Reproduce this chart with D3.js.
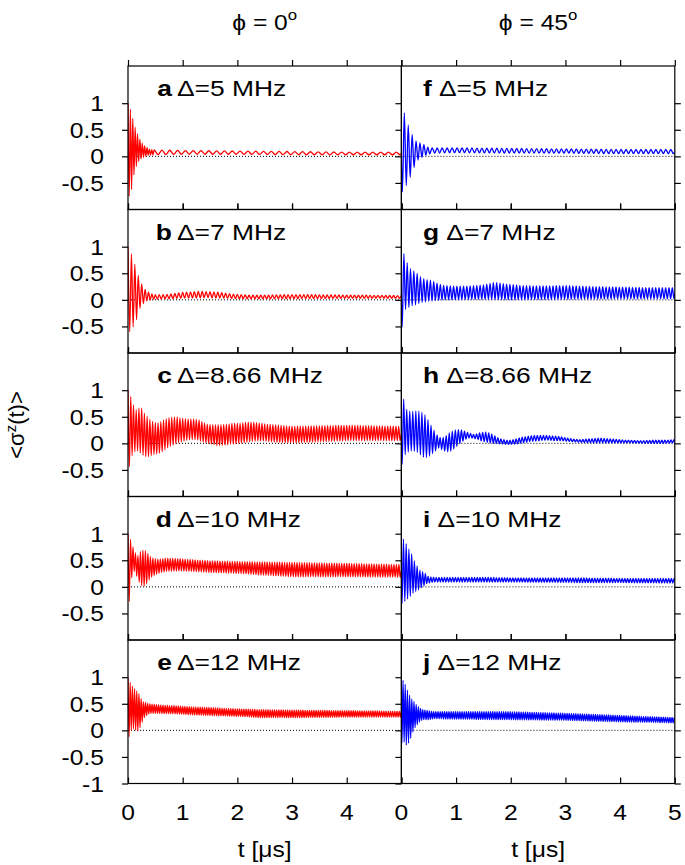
<!DOCTYPE html>
<html><head><meta charset="utf-8">
<script src="https://cdn.jsdelivr.net/npm/d3@7"></script>
<style>body{margin:0;background:#fff}svg{display:block}</style>
</head><body>
<svg id="chart" width="685" height="865"></svg>
<script>
// ---------------- data ----------------
const columnTitles = ["0", "45"];              // phi in degrees
const panelLetters = [["a","b","c","d","e"],["f","g","h","i","j"]];
const detunings = ["5","7","8.66","10","12"];   // MHz
const xTickValues = [0,1,2,3,4,5];
const xTickLabelsLeft = ["0","1","2","3","4"];
const xTickLabelsRight = ["0","1","2","3","4","5"];
const yTickValues = [1,0.5,0,-0.5];
const yTickValuesBottom = [1,0.5,0,-0.5,-1];
const xLabel = "t [\u03bcs]";

// Envelope readings: [t (us), value] for upper and lower extremes of the oscillation
const upA = [[0,1.0],[0.045,0.88],[0.09,0.7],[0.13,0.55],[0.175,0.42],[0.22,0.32],[0.26,0.25],[0.3,0.2],[0.35,0.16],[0.4,0.13],[0.47,0.12],[1,0.11],[2,0.1],[3,0.09],[4,0.08],[5,0.08]];
const loA = [[0,-0.75],[0.024,-0.75],[0.067,-0.62],[0.11,-0.34],[0.152,-0.19],[0.195,-0.1],[0.238,-0.05],[0.28,-0.02],[0.32,0],[0.36,0.02],[0.45,0.03],[1,0.04],[2,0.04],[3,0.03],[4,0.03],[5,0.03]];
const carA = [[0,23],[0.47,7]];

const upB = [[0,1.0],[0.05,0.9],[0.11,0.72],[0.17,0.51],[0.23,0.34],[0.29,0.22],[0.35,0.16],[0.41,0.12],[0.5,0.1],[0.7,0.1],[1.0,0.14],[1.3,0.16],[1.6,0.15],[1.9,0.11],[2.2,0.09],[2.6,0.09],[3.0,0.1],[4.0,0.09],[5.0,0.08]];
const loB = [[0,-0.6],[0.03,-0.6],[0.08,-0.53],[0.14,-0.44],[0.2,-0.19],[0.26,-0.09],[0.32,-0.03],[0.38,0],[0.5,0.01],[1.0,0.03],[1.5,0.04],[2.0,0.02],[3.0,0.02],[4.0,0.03],[5.0,0.03]];
const carB = [[0,16],[0.5,14]];

const upC = [[0,1.0],[0.05,0.88],[0.1,0.72],[0.15,0.63],[0.2,0.66],[0.26,0.66],[0.31,0.54],[0.36,0.5],[0.41,0.44],[0.47,0.4],[0.53,0.38],[0.59,0.4],[0.65,0.44],[0.71,0.47],[0.77,0.49],[0.83,0.5],[0.9,0.5],[0.95,0.48],[1.07,0.46],[1.19,0.46],[1.31,0.44],[1.44,0.36],[1.56,0.35],[1.68,0.35],[1.8,0.36],[1.92,0.38],[2.05,0.38],[2.17,0.4],[2.29,0.4],[2.41,0.38],[2.53,0.36],[2.66,0.35],[2.78,0.34],[3.02,0.32],[3.5,0.33],[4.0,0.34],[4.5,0.33],[5.0,0.32]];
const loC = [[0,-0.46],[0.02,-0.46],[0.08,-0.21],[0.13,-0.15],[0.19,-0.14],[0.25,-0.21],[0.31,-0.24],[0.35,-0.26],[0.4,-0.24],[0.47,-0.21],[0.53,-0.2],[0.59,-0.18],[0.65,-0.14],[0.71,-0.09],[0.77,-0.06],[0.83,-0.03],[0.89,0.0],[1.01,0.04],[1.13,0.07],[1.25,0.07],[1.38,0.02],[1.5,-0.01],[1.62,-0.04],[1.74,-0.04],[1.86,-0.02],[1.98,-0.01],[2.16,0.02],[2.29,0.04],[2.41,0.05],[2.53,0.04],[2.72,0.02],[3.02,0.01],[3.5,0.03],[4.0,0.05],[4.5,0.05],[5.0,0.05]];
const carC = [[0,20]];

const upD = [[0,1.0],[0.05,0.88],[0.11,0.69],[0.17,0.57],[0.22,0.66],[0.27,0.69],[0.32,0.68],[0.37,0.62],[0.41,0.57],[0.46,0.54],[0.53,0.52],[0.7,0.54],[0.95,0.53],[1.19,0.51],[1.5,0.49],[2.1,0.475],[2.7,0.465],[3.0,0.46],[4.0,0.44],[5.0,0.42]];
const loD = [[0,-0.3],[0.02,-0.3],[0.08,0.29],[0.13,0.29],[0.18,0.13],[0.23,0.04],[0.28,0.0],[0.33,0.04],[0.38,0.12],[0.43,0.18],[0.49,0.22],[0.58,0.26],[0.7,0.29],[0.95,0.3],[1.19,0.29],[1.5,0.27],[1.8,0.26],[2.1,0.25],[2.4,0.225],[2.7,0.21],[3.0,0.19],[4.0,0.19],[5.0,0.18]];
const carD = [[0,22]];

const upE = [[0,1.0],[0.05,0.88],[0.1,0.8],[0.15,0.75],[0.2,0.69],[0.24,0.6],[0.28,0.54],[0.33,0.52],[0.38,0.5],[0.47,0.49],[0.59,0.475],[0.89,0.46],[1.19,0.44],[1.5,0.43],[1.8,0.41],[2.1,0.4],[2.4,0.39],[3.0,0.38],[4.0,0.37],[5.0,0.36]];
const loE = [[0,-0.12],[0.02,-0.12],[0.06,0.0],[0.11,0.04],[0.16,-0.02],[0.2,0.0],[0.25,0.13],[0.3,0.24],[0.35,0.29],[0.4,0.32],[0.53,0.32],[0.89,0.31],[1.19,0.29],[1.5,0.28],[1.8,0.27],[2.1,0.26],[2.4,0.24],[3.0,0.24],[4.0,0.25],[5.0,0.25]];
const carE = [[0,25]];

const upF = [[0,0.875],[0.037,0.875],[0.1,0.66],[0.17,0.47],[0.24,0.31],[0.31,0.26],[0.39,0.24],[0.46,0.18],[0.55,0.16],[1.0,0.16],[2.0,0.15],[3.0,0.14],[4.0,0.13],[5.0,0.13]];
const loF = [[0,-0.67],[0.02,-0.67],[0.1,-0.53],[0.17,-0.375],[0.24,-0.19],[0.31,-0.06],[0.39,-0.01],[0.46,0.03],[0.55,0.06],[1.0,0.07],[2.0,0.06],[3.0,0.06],[4.0,0.05],[5.0,0.05]];
const carF = [[0,14],[0.5,11]];

const upG = [[0,0.875],[0.04,0.875],[0.08,0.84],[0.12,0.62],[0.22,0.55],[0.32,0.47],[0.37,0.41],[0.46,0.38],[0.52,0.375],[0.59,0.35],[0.68,0.3],[0.77,0.27],[0.9,0.26],[1.2,0.26],[1.5,0.28],[1.7,0.33],[1.9,0.3],[2.2,0.27],[2.6,0.26],[3.0,0.27],[3.5,0.25],[4.0,0.24],[4.5,0.23],[5.0,0.23]];
const loG = [[0,-0.53],[0.012,-0.53],[0.06,-0.19],[0.17,-0.12],[0.27,-0.09],[0.37,-0.05],[0.5,-0.03],[0.65,-0.01],[0.8,0.0],[1.5,0.01],[2.0,0.0],[3.0,0.01],[4.0,0.02],[5.0,0.02]];
const carG = [[0,16.5]];

const upH = [[0,0.85],[0.037,0.85],[0.1,0.63],[0.16,0.6],[0.22,0.6],[0.28,0.61],[0.34,0.6],[0.4,0.57],[0.46,0.5],[0.52,0.38],[0.59,0.26],[0.65,0.16],[0.71,0.11],[0.77,0.11],[0.83,0.15],[0.89,0.21],[0.95,0.24],[1.01,0.26],[1.07,0.26],[1.13,0.24],[1.19,0.21],[1.26,0.19],[1.32,0.17],[1.38,0.18],[1.44,0.2],[1.5,0.21],[1.56,0.21],[1.62,0.19],[1.68,0.16],[1.74,0.12],[1.8,0.09],[1.87,0.07],[1.93,0.06],[1.99,0.06],[2.05,0.07],[2.11,0.09],[2.17,0.11],[2.29,0.13],[2.41,0.15],[2.54,0.15],[2.66,0.15],[2.78,0.14],[2.9,0.13],[3.02,0.1],[3.14,0.08],[3.27,0.07],[3.39,0.08],[3.51,0.09],[3.63,0.1],[3.75,0.09],[3.87,0.08],[4.11,0.06],[4.36,0.05],[4.6,0.06],[4.85,0.06],[5.0,0.07]];
const loH = [[0,-0.4],[0.012,-0.4],[0.07,-0.21],[0.13,-0.16],[0.19,-0.14],[0.25,-0.15],[0.31,-0.18],[0.37,-0.24],[0.43,-0.275],[0.49,-0.26],[0.55,-0.21],[0.62,-0.15],[0.68,-0.09],[0.74,-0.12],[0.8,-0.15],[0.86,-0.16],[0.92,-0.14],[0.98,-0.09],[1.04,-0.03],[1.1,0.02],[1.16,0.07],[1.22,0.1],[1.28,0.1],[1.34,0.09],[1.4,0.07],[1.47,0.04],[1.56,0.02],[1.68,0.0],[1.8,-0.01],[1.93,-0.02],[2.05,-0.02],[2.17,0.0],[2.29,0.02],[2.41,0.04],[2.54,0.05],[2.66,0.06],[2.78,0.05],[2.9,0.05],[3.02,0.04],[3.14,0.03],[3.26,0.02],[3.5,0.01],[3.75,0.01],[4.0,0.01],[4.24,0.01],[4.48,0.0],[4.73,0.0],[5.0,0.01]];
const carH = [[0,18]];

const upI = [[0,0.91],[0.03,0.91],[0.085,0.82],[0.134,0.72],[0.183,0.63],[0.232,0.5],[0.28,0.41],[0.33,0.32],[0.38,0.29],[0.43,0.26],[0.48,0.2],[0.53,0.19],[0.59,0.18],[1.0,0.18],[1.5,0.18],[2.0,0.17],[3.0,0.17],[4.0,0.16],[5.0,0.16]];
const loI = [[0,-0.31],[0.012,-0.31],[0.06,-0.275],[0.11,-0.23],[0.16,-0.18],[0.21,-0.12],[0.26,-0.09],[0.31,-0.06],[0.35,-0.03],[0.4,0.01],[0.46,0.06],[0.53,0.08],[0.59,0.09],[1.0,0.09],[2.0,0.09],[3.0,0.08],[4.0,0.08],[5.0,0.07]];
const carI = [[0,20]];

const upJ = [[0,0.94],[0.037,0.94],[0.085,0.83],[0.134,0.69],[0.183,0.6],[0.232,0.54],[0.28,0.475],[0.33,0.43],[0.38,0.39],[0.43,0.38],[0.5,0.37],[0.59,0.35],[1.0,0.35],[2.0,0.35],[3.0,0.32],[4.0,0.28],[5.0,0.24]];
const loJ = [[0,-0.24],[0.012,-0.24],[0.06,-0.21],[0.1,-0.3],[0.16,-0.18],[0.21,-0.03],[0.26,0.07],[0.31,0.13],[0.35,0.18],[0.4,0.2],[0.5,0.2],[0.59,0.22],[1.0,0.21],[2.0,0.2],[3.0,0.19],[4.0,0.16],[5.0,0.14]];
const carJ = [[0,25]];

const panels = [
  [ {up:upA,lo:loA,car:carA}, {up:upB,lo:loB,car:carB}, {up:upC,lo:loC,car:carC}, {up:upD,lo:loD,car:carD}, {up:upE,lo:loE,car:carE} ],
  [ {up:upF,lo:loF,car:carF}, {up:upG,lo:loG,car:carG}, {up:upH,lo:loH,car:carH}, {up:upI,lo:loI,car:carI}, {up:upJ,lo:loJ,car:carJ} ]
];
const seriesColors = ["#ff0000", "#0000ff"];

// ---------------- layout ----------------
const plotLeft = 128, colW = 273.4, plotTop = 66, rowH = 143.5;
const SX = 1.12, FS = 22, SXL = 1.2;
const FONT = "'Liberation Sans', Arial, Helvetica, sans-serif";

const svg = d3.select("#chart");
svg.append("rect").attr("width",685).attr("height",865).attr("fill","#fff");

function stretchedText(x, y, anchor, size, sx) {
  return svg.append("g").attr("transform", `translate(${x},${y}) scale(${sx || SX},1)`)
    .append("text").attr("text-anchor", anchor)
    .attr("font-family", FONT).attr("font-size", size || FS).attr("fill", "#000");
}

// oscillation built from envelope readings: alternating extremes at carrier half-periods
function buildTrace(p, startHigh) {
  const up = d3.scaleLinear().domain(p.up.map(d=>d[0])).range(p.up.map(d=>d[1])).clamp(true);
  const lo = d3.scaleLinear().domain(p.lo.map(d=>d[0])).range(p.lo.map(d=>d[1])).clamp(true);
  const bis = d3.bisector(d=>d[0]).right;
  const freq = t => p.car[Math.max(0, bis(p.car, t) - 1)][1];
  const pts = [];
  let t, k;
  if (startHigh) { t = 0; k = 0; }
  else { pts.push([0, 0]); t = 0.25 / freq(0); k = 1; }
  while (t < 5) {
    pts.push([t, k % 2 === 0 ? up(t) : lo(t)]);
    t += 0.5 / freq(t); k++;
  }
  pts.push([5, (up(5) + lo(5)) / 2]);
  return pts;
}

const defs = svg.append("defs");

for (let c = 0; c < 2; c++) {
  const x0 = plotLeft + c * colW;
  const x = d3.scaleLinear().domain([0,5]).range([x0, x0 + colW]);
  for (let r = 0; r < 5; r++) {
    const top = plotTop + r * rowH;
    const y = d3.scaleLinear().domain([-1, 1.7]).range([top + rowH, top]);
    const g = svg.append("g");
    const clipId = `clip${c}${r}`;
    defs.append("clipPath").attr("id", clipId).append("rect")
      .attr("x", x0).attr("y", top).attr("width", colW).attr("height", rowH);

    // zero line (dotted)
    g.append("line").attr("x1", x(0)).attr("x2", x(5)).attr("y1", y(0)).attr("y2", y(0))
      .attr("stroke", "#000").attr("stroke-width", 1).attr("stroke-dasharray", "1,2");

    // trace
    const pts = buildTrace(panels[c][r], c === 0);
    const line = d3.line().x(d => x(d[0])).y(d => y(d[1])).curve(d3.curveMonotoneX);
    g.append("path").attr("d", line(pts)).attr("fill", "none")
      .attr("stroke", seriesColors[c]).attr("stroke-width", 1.3)
      .attr("clip-path", `url(#${clipId})`);

    // frame
    g.append("rect").attr("x", x0).attr("y", top).attr("width", colW).attr("height", rowH)
      .attr("fill", "none").attr("stroke", "#000").attr("stroke-width", 1.2);

    // x ticks (pointing up) at top and bottom borders
    [top, top + rowH].forEach(yy => {
      const ax = svg.append("g").attr("transform", `translate(0,${yy})`)
        .call(d3.axisTop(x).tickValues(xTickValues).tickSize(6).tickFormat(""));
      ax.select(".domain").remove();
      ax.selectAll("line").attr("stroke-width", 1.2);
    });
    // y ticks: left side pointing out (left)
    const yt = r === 4 ? yTickValuesBottom : yTickValues;
    const axl = svg.append("g").attr("transform", `translate(${x0},0)`)
      .call(d3.axisLeft(y).tickValues(yt).tickSize(6).tickFormat(""));
    axl.select(".domain").remove();
    axl.selectAll("line").attr("stroke-width", 1.2);
    if (c === 1) {
      const axr = svg.append("g").attr("transform", `translate(${x0 + colW},0)`)
        .call(d3.axisRight(y).tickValues(yt).tickSize(6).tickFormat(""));
      axr.select(".domain").remove();
      axr.selectAll("line").attr("stroke-width", 1.2);
    }

    // y tick labels (left column only)
    if (c === 0) {
      yt.forEach(v => {
        stretchedText(104, y(v) + 8, "end").text(String(v));
      });
    }

    // panel label
    const by = top + 30;
    if (c === 0) {
      stretchedText(172, by, "end", FS, SXL).attr("font-weight", "bold").text(panelLetters[c][r]);
      stretchedText(177, by, "start", FS, SXL).text(`\u0394=${detunings[r]} MHz`);
    } else {
      const t = stretchedText(423, by, "start", FS, SXL);
      t.append("tspan").attr("font-weight", "bold").text(panelLetters[c][r]);
      t.append("tspan").attr("dx", 6).text(`\u0394=${detunings[r]} MHz`);
    }

    // bottom row x tick labels and axis title
    if (r === 4) {
      const labels = c === 0 ? xTickLabelsLeft : xTickLabelsRight;
      labels.forEach((lab, i) => {
        stretchedText(x(xTickValues[i]), top + rowH + 36, "middle").text(lab);
      });
      stretchedText(x0 + colW / 2, 857, "middle").text(xLabel);
    }
  }
  // column title
  const tt = stretchedText(x0 + colW / 2, 30, "middle");
  tt.append("tspan").text(`\u03d5 = ${columnTitles[c]}`);
  tt.append("tspan").attr("dy", -10).attr("font-size", 15).text("o");
}

// y axis title (rotated)
const yl = svg.append("g").attr("transform", "translate(24,425) rotate(-90)")
  .append("text").attr("text-anchor", "middle").attr("font-family", FONT).attr("font-size", 22);
yl.append("tspan").text("<\u03c3");
yl.append("tspan").attr("dy", -8).attr("font-size", 15).text("z");
yl.append("tspan").attr("dy", 8).text("(t)>");
</script>
</body></html>
